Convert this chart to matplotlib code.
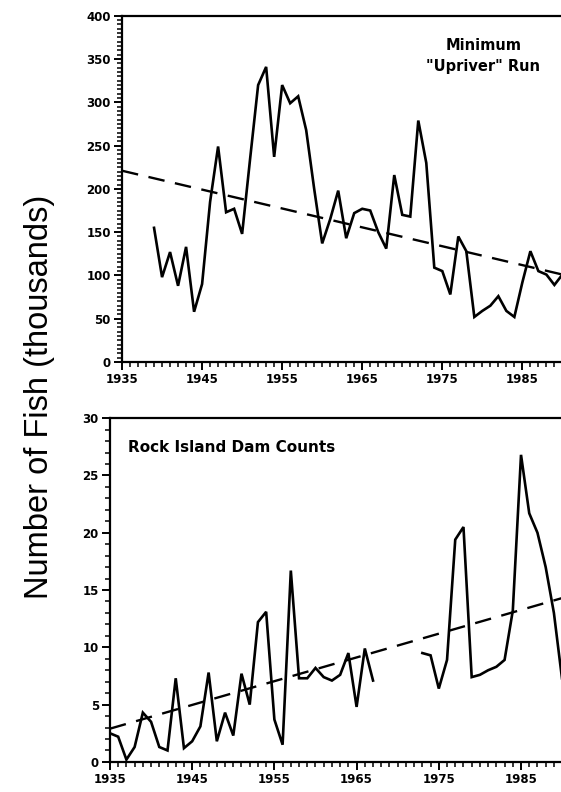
import numpy as np
import matplotlib
matplotlib.use('Agg')
import matplotlib.pyplot as plt
from matplotlib.ticker import MultipleLocator, FixedLocator

# Minimum "Upriver" run, thousands of fish
upriver_years = list(range(1939, 1991))
upriver_fish = [155, 98, 127, 88, 133, 58, 90, 185, 249, 173, 177, 148, 235, 320,
                341, 237, 320, 299, 307, 268, 200, 137, 165, 198, 143, 172, 177, 175,
                150, 131, 216, 170, 168, 279, 230, 109, 105, 78, 145, 128, 52, 59,
                65, 76, 59, 52, 92, 128, 105, 101, 89, 101]
upriver_trend_years = [1935, 1990]
upriver_trend = [221, 101]

# Rock Island Dam counts, thousands of fish (no counts 1968-1972)
rock_years = list(range(1935, 1991))
rock_fish = [2.5, 2.2, 0.2, 1.3, 4.3, 3.5, 1.3, 1.0, 7.3, 1.2, 1.8, 3.1, 7.8, 1.8,
             4.3, 2.3, 7.7, 5.0, 12.2, 13.1, 3.7, 1.5, 16.7, 7.3, 7.3, 8.2, 7.4, 7.1,
             7.6, 9.5, 4.8, 9.9, 7.1, np.nan, np.nan, np.nan, np.nan, np.nan, 9.5, 9.3,
             6.4, 8.9, 19.4, 20.5, 7.4, 7.6, 8.0, 8.3, 8.9, 13.2, 26.8, 21.7, 20.0,
             17.0, 13.0, 7.2]
rock_trend_years = [1935, 1990]
rock_trend = [2.9, 14.3]

year_ticks = [1935, 1945, 1955, 1965, 1975, 1985]

plt.rcParams['font.family'] = ['Liberation Sans', 'DejaVu Sans']

fig = plt.figure(figsize=(5.61, 7.92), dpi=100)
ax1 = fig.add_axes([0.2175, 0.543, 0.785, 0.437])
ax2 = fig.add_axes([0.196, 0.038, 0.806, 0.434])


def style_axis(ax, ymax, ymajor, yminor):
    ax.set_xlim(1935, 1990)
    ax.set_ylim(0, ymax)
    ax.xaxis.set_major_locator(FixedLocator(year_ticks))
    ax.xaxis.set_minor_locator(MultipleLocator(1))
    ax.yaxis.set_major_locator(MultipleLocator(ymajor))
    ax.yaxis.set_minor_locator(MultipleLocator(yminor))
    ax.spines['right'].set_visible(False)
    for s in ['left', 'bottom', 'top']:
        ax.spines[s].set_linewidth(1.6)
    ax.tick_params(which='major', direction='out', length=5.5, width=1.4,
                   labelsize=8.5, pad=2.5)
    ax.tick_params(which='minor', direction='out', length=3.5, width=1.1)
    for lab in ax.get_xticklabels() + ax.get_yticklabels():
        lab.set_fontweight('bold')
        lab.set_family('DejaVu Sans')


ax1.plot(upriver_years, upriver_fish, color='black', lw=1.9, solid_joinstyle='miter')
ax1.plot(upriver_trend_years, upriver_trend, color='black', lw=1.7,
         linestyle=(0, (7, 4.5)))
style_axis(ax1, 400, 50, 5)
ax1.text(0.82, 0.884, 'Minimum\n"Upriver" Run', transform=ax1.transAxes,
         ha='center', va='center', fontsize=10.5, fontweight='bold',
         family='DejaVu Sans', linespacing=1.45)

ax2.plot(rock_years, rock_fish, color='black', lw=1.9, solid_joinstyle='miter')
ax2.plot(rock_trend_years, rock_trend, color='black', lw=1.7,
         linestyle=(0, (7, 4.5)))
style_axis(ax2, 30, 5, 1)
ax2.text(0.04, 0.916, 'Rock Island Dam Counts', transform=ax2.transAxes,
         ha='left', va='center', fontsize=11, fontweight='bold',
         family='DejaVu Sans')

fig.text(0.071, 0.499, 'Number of Fish (thousands)', rotation=90,
         ha='center', va='center', fontsize=23.5)

fig.savefig('out.png', dpi=100)
